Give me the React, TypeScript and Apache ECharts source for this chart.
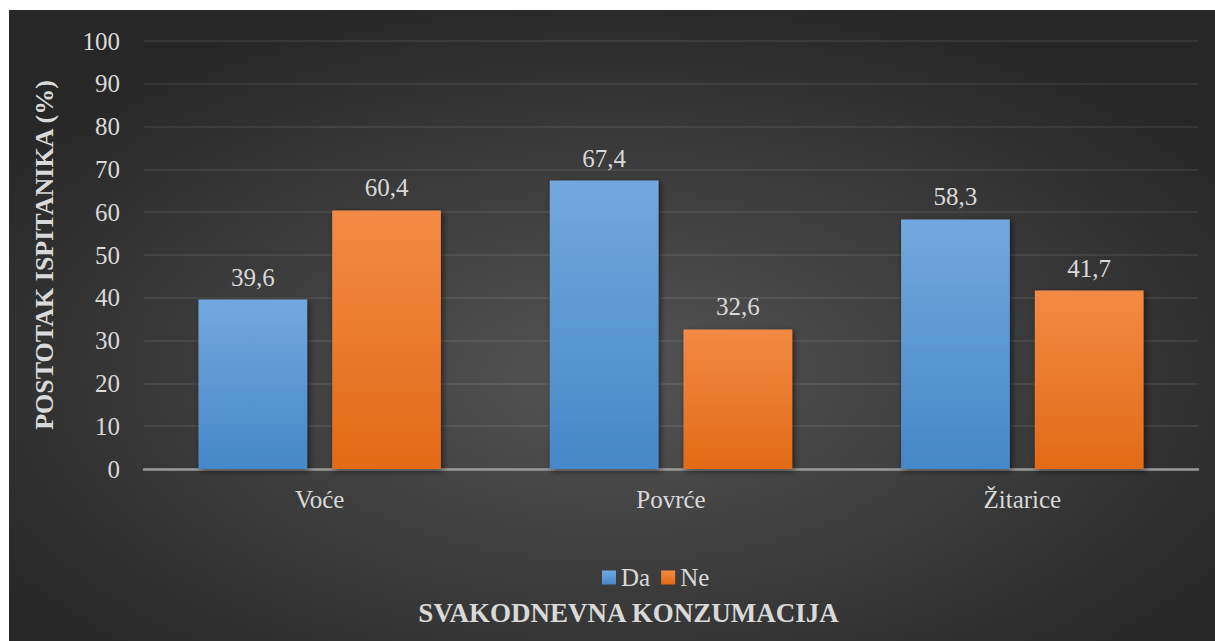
import React, { useEffect, useRef } from "react";
import * as echarts from "echarts";

const categories = ["Voće", "Povrće", "Žitarice"];
const daValues = [39.6, 67.4, 58.3];
const neValues = [60.4, 32.6, 41.7];
const seriesNames = ["Da", "Ne"];
const yAxisTitle = "POSTOTAK ISPITANIKA (%)";
const xAxisTitle = "SVAKODNEVNA KONZUMACIJA";

const FONT = "Liberation Serif";
const TEXT = "#d9d9d9";

export default function App() {
  const ref = useRef<HTMLDivElement>(null);
  useEffect(() => {
    if (!ref.current) return;
    const chart = echarts.init(ref.current, null, { renderer: "svg" });
    const grad = (top: string, bottom: string) =>
      new echarts.graphic.LinearGradient(0, 0, 0, 1, [
        { offset: 0, color: top },
        { offset: 1, color: bottom },
      ]);
    const labelCfg = {
      show: true,
      position: "top",
      distance: 10,
      color: TEXT,
      fontFamily: FONT,
      fontSize: 25,
      formatter: (p: any) => String(p.value).replace(".", ","),
    };
    const shadow = {
      shadowBlur: 6,
      shadowColor: "rgba(0,0,0,0.55)",
      shadowOffsetX: 2,
      shadowOffsetY: 2,
    };
    chart.setOption({
      animation: false,
      graphic: [
        {
          type: "rect",
          z: -100,
          silent: true,
          shape: { x: 0, y: 0, width: 1206, height: 631 },
          style: {
            fill: new echarts.graphic.RadialGradient(0.5, 0.58, 0.62, [
              { offset: 0, color: "#545454" },
              { offset: 1, color: "#272727" },
            ]),
          },
        },
        {
          type: "text",
          x: 619.5,
          y: 603,
          silent: true,
          style: {
            text: xAxisTitle,
            fill: TEXT,
            font: "bold 27px 'Liberation Serif'",
            align: "center",
            verticalAlign: "middle",
          },
        },
      ],
      grid: { left: 135, right: 17, top: 31, bottom: 172 },
      legend: {
        data: seriesNames,
        left: 588,
        top: 550,
        itemWidth: 14,
        itemHeight: 14,
        itemGap: 11,
        icon: "rect",
        textStyle: { color: TEXT, fontFamily: FONT, fontSize: 25 },
      },
      xAxis: {
        type: "category",
        data: categories,
        axisLine: { lineStyle: { color: "#9a9a9a", width: 2.5 } },
        axisTick: { show: false },
        axisLabel: { color: TEXT, fontFamily: FONT, fontSize: 25, margin: 18 },
      },
      yAxis: {
        type: "value",
        min: 0,
        max: 100,
        interval: 10,
        name: yAxisTitle,
        nameLocation: "middle",
        nameGap: 87,
        nameRotate: 90,
        nameTextStyle: { color: TEXT, fontFamily: FONT, fontSize: 26, fontWeight: "bold" },
        axisLine: { show: false },
        axisTick: { show: false },
        axisLabel: { color: TEXT, fontFamily: FONT, fontSize: 25, margin: 24 },
        splitLine: { lineStyle: { color: "rgba(255,255,255,0.1)", width: 1.5 } },
      },
      series: [
        {
          name: seriesNames[0],
          type: "bar",
          data: daValues,
          barGap: "23%",
          barCategoryGap: "31%",
          itemStyle: { color: grad("#72a8de", "#4588c8"), ...shadow },
          label: labelCfg,
        },
        {
          name: seriesNames[1],
          type: "bar",
          data: neValues,
          itemStyle: { color: grad("#f38a45", "#e36a16"), ...shadow },
          label: labelCfg,
        },
      ],
    });
    return () => chart.dispose();
  }, []);
  return (
    <div
      ref={ref}
      style={{ position: "absolute", left: 9, top: 10, width: 1206, height: 631 }}
    />
  );
}
